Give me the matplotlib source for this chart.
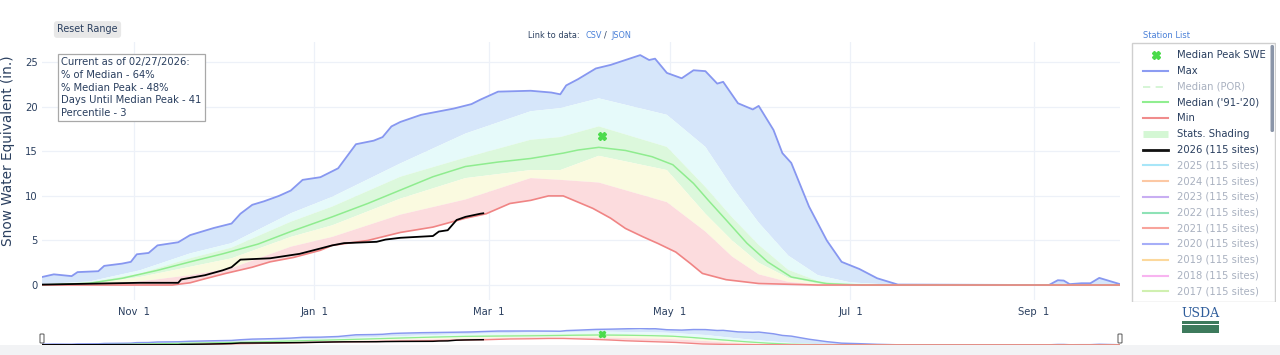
import numpy as np
import pandas as pd
import matplotlib
matplotlib.use('Agg')
import matplotlib.pyplot as plt
import matplotlib.dates as mdates
from matplotlib.patches import Rectangle, FancyBboxPatch

plt.rcParams['font.family'] = ['DejaVu Sans']

# --- data: snow water equivalent (in.), water year 2026 ---
max_pts = [('2025-10-01', 0.9), ('2025-10-05', 1.2), ('2025-10-11', 1.0), ('2025-10-13', 1.45),
           ('2025-10-20', 1.55), ('2025-10-22', 2.15), ('2025-10-28', 2.4), ('2025-10-31', 2.6),
           ('2025-11-02', 3.45), ('2025-11-06', 3.6), ('2025-11-09', 4.45), ('2025-11-16', 4.8),
           ('2025-11-20', 5.6), ('2025-11-24', 6.0), ('2025-11-28', 6.4), ('2025-12-04', 6.9),
           ('2025-12-07', 8.0), ('2025-12-11', 9.0), ('2025-12-15', 9.4), ('2025-12-20', 10.0),
           ('2025-12-24', 10.6), ('2025-12-28', 11.8), ('2026-01-03', 12.1), ('2026-01-06', 12.6),
           ('2026-01-09', 13.1), ('2026-01-11', 14.0), ('2026-01-15', 15.8), ('2026-01-21', 16.2),
           ('2026-01-24', 16.6), ('2026-01-27', 17.8), ('2026-01-30', 18.3), ('2026-02-06', 19.1),
           ('2026-02-17', 19.8), ('2026-02-23', 20.3), ('2026-02-26', 20.8), ('2026-03-04', 21.7),
           ('2026-03-15', 21.8), ('2026-03-22', 21.6), ('2026-03-25', 21.4), ('2026-03-27', 22.4),
           ('2026-03-31', 23.1), ('2026-04-06', 24.3), ('2026-04-11', 24.7), ('2026-04-16', 25.25),
           ('2026-04-21', 25.8), ('2026-04-24', 25.25), ('2026-04-26', 25.4), ('2026-04-30', 23.8),
           ('2026-05-05', 23.2), ('2026-05-09', 24.1), ('2026-05-13', 24.0), ('2026-05-17', 22.6),
           ('2026-05-19', 22.8), ('2026-05-24', 20.4), ('2026-05-29', 19.7), ('2026-05-31', 20.1),
           ('2026-06-05', 17.4), ('2026-06-08', 14.8), ('2026-06-11', 13.7), ('2026-06-17', 8.8),
           ('2026-06-23', 5.0), ('2026-06-28', 2.6), ('2026-07-04', 1.8), ('2026-07-10', 0.76),
           ('2026-07-17', 0.05), ('2026-09-06', 0.0), ('2026-09-09', 0.54), ('2026-09-11', 0.5),
           ('2026-09-13', 0.1), ('2026-09-17', 0.2), ('2026-09-20', 0.2), ('2026-09-23', 0.8),
           ('2026-09-30', 0.1)]

median_pts = [('2025-10-01', 0.0), ('2025-10-17', 0.2), ('2025-10-28', 0.75), ('2025-11-09', 1.65),
              ('2025-11-20', 2.6), ('2025-12-01', 3.5), ('2025-12-13', 4.6), ('2025-12-24', 6.0),
              ('2026-01-07', 7.65), ('2026-01-19', 9.15), ('2026-01-30', 10.65), ('2026-02-10', 12.15),
              ('2026-02-21', 13.3), ('2026-03-04', 13.8), ('2026-03-15', 14.2), ('2026-03-26', 14.8),
              ('2026-03-31', 15.15), ('2026-04-07', 15.45), ('2026-04-16', 15.1), ('2026-04-25', 14.4),
              ('2026-05-02', 13.5), ('2026-05-09', 11.4), ('2026-05-14', 9.5), ('2026-05-20', 7.3),
              ('2026-05-27', 4.7), ('2026-06-03', 2.6), ('2026-06-11', 0.9), ('2026-06-23', 0.15),
              ('2026-07-05', 0.0), ('2026-09-30', 0.0)]

min_pts = [('2025-10-01', 0.0), ('2025-11-14', 0.0), ('2025-11-20', 0.25), ('2025-11-25', 0.7),
           ('2025-12-02', 1.3), ('2025-12-11', 2.0), ('2025-12-17', 2.6), ('2025-12-25', 3.1),
           ('2026-01-03', 3.9), ('2026-01-07', 4.45), ('2026-01-19', 5.0), ('2026-01-30', 5.9),
           ('2026-02-10', 6.5), ('2026-02-21', 7.5), ('2026-02-28', 8.0), ('2026-03-08', 9.15),
           ('2026-03-15', 9.5), ('2026-03-21', 10.0), ('2026-03-26', 10.0), ('2026-03-31', 9.3),
           ('2026-04-05', 8.6), ('2026-04-11', 7.5), ('2026-04-16', 6.35), ('2026-04-22', 5.4),
           ('2026-04-27', 4.66), ('2026-05-03', 3.7), ('2026-05-08', 2.4), ('2026-05-12', 1.3),
           ('2026-05-20', 0.6), ('2026-05-31', 0.17), ('2026-06-20', 0.0), ('2026-09-30', 0.0)]

wy2026_pts = [('2025-10-01', 0.05), ('2025-11-03', 0.25), ('2025-11-16', 0.25), ('2025-11-17', 0.63),
              ('2025-11-25', 1.1), ('2025-12-01', 1.65), ('2025-12-04', 2.0), ('2025-12-07', 2.85),
              ('2025-12-17', 3.0), ('2025-12-27', 3.5), ('2026-01-03', 4.1), ('2026-01-07', 4.45),
              ('2026-01-11', 4.7), ('2026-01-22', 4.85), ('2026-01-25', 5.1), ('2026-01-30', 5.3),
              ('2026-02-10', 5.5), ('2026-02-12', 6.0), ('2026-02-15', 6.15), ('2026-02-18', 7.3),
              ('2026-02-21', 7.65), ('2026-02-26', 8.0), ('2026-02-27', 8.05)]

peak_date = '2026-04-08'
peak_swe = 16.7

band_dates = ['2025-10-01', '2025-10-17', '2025-11-03', '2025-11-20', '2025-12-04', '2025-12-24',
              '2026-01-07', '2026-01-30', '2026-02-21', '2026-03-15', '2026-03-25', '2026-04-07',
              '2026-04-30', '2026-05-13', '2026-05-22', '2026-05-31', '2026-06-10', '2026-06-20',
              '2026-07-01', '2026-07-15', '2026-09-30']
p90 = [0.1, 0.4, 1.65, 3.55, 4.7, 8.05, 9.9, 13.65, 17.0, 19.5, 19.85, 20.95, 19.1, 15.5, 11.0, 7.0,
       3.3, 1.1, 0.3, 0.03, 0.0]
p70 = [0.05, 0.3, 1.3, 3.0, 4.2, 7.1, 8.8, 12.15, 14.3, 16.3, 16.6, 17.8, 15.5, 11.0, 7.6, 4.5,
       1.7, 0.45, 0.08, 0.0, 0.0]
p50 = [0.02, 0.15, 0.9, 2.05, 3.0, 5.4, 6.7, 9.7, 12.0, 12.9, 12.9, 14.5, 12.9, 8.0, 5.0, 2.5,
       0.8, 0.15, 0.02, 0.0, 0.0]
p30 = [0.0, 0.05, 0.4, 1.1, 1.9, 4.3, 5.4, 7.9, 9.6, 12.0, 11.8, 11.5, 9.3, 6.0, 3.2, 1.2,
       0.35, 0.05, 0.0, 0.0, 0.0]

tick_dates = ['2025-11-01', '2026-01-01', '2026-03-01', '2026-05-01', '2026-07-01', '2026-09-01']
tick_labels = ['Nov  1', 'Jan  1', 'Mar  1', 'May  1', 'Jul  1', 'Sep  1']

info_lines = ['Current as of 02/27/2026:', '% of Median - 64%', '% Median Peak - 48%',
              'Days Until Median Peak - 41', 'Percentile - 3']

legend_labels = ['Median Peak SWE', 'Max', 'Median (POR)', "Median ('91-'20)", 'Min',
                 'Stats. Shading', '2026 (115 sites)', '2025 (115 sites)', '2024 (115 sites)',
                 '2023 (115 sites)', '2022 (115 sites)', '2021 (115 sites)', '2020 (115 sites)',
                 '2019 (115 sites)', '2018 (115 sites)', '2017 (115 sites)']
legend_colors = ['#4cdb4c', '#8c9cf2', '#d2f4d2', '#90ee90', '#f08c8c', '#d4f7d4', '#111111',
                 '#a8e6f8', '#fcc8a4', '#c8aef2', '#8ee2b6', '#f8a49c', '#a6aef8', '#fcd89c',
                 '#f8b4f0', '#d0f0b0']
legend_active = [True, True, False, True, True, True, True,
                 False, False, False, False, False, False, False, False, False]

# colours
TXT = '#2a3f5f'
GREY_TXT = '#a9b1c0'
C_MAX, C_MED, C_MIN = '#8797f0', '#8fec8f', '#f08484'
C_BLUE, C_CYAN, C_GREEN, C_YEL, C_RED = '#d6e6fa', '#e6fafa', '#dcf8dc', '#fafae0', '#fcdcde'

W, H = 1280, 355


def unzip(pts):
    d, v = zip(*pts)
    return mdates.date2num(pd.to_datetime(list(d))), np.array(v)


def band(ax, xl, yl, xu, yu, color):
    xs = np.concatenate([xu, xl[::-1]])
    ys = np.concatenate([yu, yl[::-1]])
    ax.fill(xs, ys, color=color, lw=0, zorder=1)


mx_x, mx_y = unzip(max_pts)
md_x, md_y = unzip(median_pts)
mn_x, mn_y = unzip(min_pts)
cur_x, cur_y = unzip(wy2026_pts)
bx = mdates.date2num(pd.to_datetime(band_dates))
p90, p70, p50, p30 = map(np.array, (p90, p70, p50, p30))
pk_x = mdates.date2num(pd.to_datetime(peak_date))
x0 = mdates.date2num(pd.Timestamp('2025-10-01'))
x1 = mdates.date2num(pd.Timestamp('2026-09-30'))


def draw_series(ax, lw_scale=1.0, marker=True):
    band(ax, bx, p90, mx_x, mx_y, C_BLUE)
    band(ax, bx, p70, bx, p90, C_CYAN)
    band(ax, bx, p50, bx, p70, C_GREEN)
    band(ax, bx, p30, bx, p50, C_YEL)
    band(ax, mn_x, mn_y, bx, p30, C_RED)
    ax.plot(mx_x, mx_y, color=C_MAX, lw=1.3 * lw_scale, zorder=3)
    ax.plot(md_x, md_y, color=C_MED, lw=1.1 * lw_scale, zorder=3)
    ax.plot(mn_x, mn_y, color=C_MIN, lw=1.2 * lw_scale, zorder=3)
    ax.plot(cur_x, cur_y, color='black', lw=1.3 * lw_scale, zorder=4)
    if marker:
        ax.plot(pk_x, peak_swe, marker='X', ms=6 * lw_scale, color='#4cdb4c', mec='#4cdb4c',
                zorder=5, ls='none')


def fx(x):
    return x / W


def fy(y):
    return 1 - y / H


fig = plt.figure(figsize=(12.8, 3.55), dpi=100)
fig.patch.set_facecolor('white')

# bottom grey strip
fig.add_artist(Rectangle((0, 0), 1, 10 / H, transform=fig.transFigure, fc='#f2f3f5', ec='none'))

# main axes
ax = fig.add_axes([fx(42), fy(300), (1120 - 42) / W, (300 - 42) / H])
draw_series(ax)
ax.set_xlim(x0, x1)
ax.set_ylim(-1.68, 27.27)
ax.set_yticks([0, 5, 10, 15, 20, 25])
ax.set_xticks(mdates.date2num(pd.to_datetime(tick_dates)))
ax.set_xticklabels(tick_labels)
ax.grid(True, color='#edf1f8', lw=0.9, zorder=0)
ax.set_axisbelow(True)
for s in ax.spines.values():
    s.set_visible(False)
ax.tick_params(length=0, labelsize=7.2, labelcolor=TXT)
ax.tick_params(axis='y', pad=3)
ax.tick_params(axis='x', pad=5)

fig.text(fx(8), fy(151), 'Snow Water Equivalent (in.)', rotation=90, ha='center', va='center',
         fontsize=9.8, color=TXT)

# info box
fig.text(fx(61), fy(57.5), '\n'.join(info_lines), ha='left', va='top', fontsize=7.2, color=TXT,
         linespacing=1.32,
         bbox=dict(boxstyle='square,pad=0.35', fc='white', ec='#a8a8a8', lw=0.9))

# top texts
fig.text(fx(87.5), fy(29.5), 'Reset Range', ha='center', va='center', fontsize=6.9, color=TXT,
         bbox=dict(boxstyle='round,pad=0.35,rounding_size=0.3', fc='#e8e8e8', ec='none'))
fig.text(fx(528), fy(35), 'Link to data:', ha='left', va='center', fontsize=5.9, color=TXT)
fig.text(fx(585), fy(35), 'CSV', ha='left', va='center', fontsize=5.9, color='#4a80d8')
fig.text(fx(604), fy(35), '/', ha='left', va='center', fontsize=5.9, color=TXT)
fig.text(fx(611), fy(35), 'JSON', ha='left', va='center', fontsize=5.9, color='#4a80d8')
fig.text(fx(1143), fy(35), 'Station List', ha='left', va='center', fontsize=6.0, color='#4a80d8')

# range slider
rs = fig.add_axes([fx(42), fy(345), (1120 - 42) / W, 17 / H])
draw_series(rs, lw_scale=0.8)
rs.set_xlim(x0, x1)
rs.set_ylim(-0.3, 26.5)
rs.axis('off')
for hx in (42, 1120):
    fig.add_artist(FancyBboxPatch((fx(hx - 2), fy(343)), 4 / W, 9 / H, transform=fig.transFigure,
                                  boxstyle='round,pad=0,rounding_size=0.001', fc='white',
                                  ec='#555555', lw=0.7, zorder=6))

# legend panel
lg = fig.add_axes([fx(1131), fy(302), 145 / W, 260 / H])
lg.set_xlim(0, 145)
lg.set_ylim(260, 0)
lg.axis('off')
lg.add_patch(Rectangle((0.5, 0.5), 143.5, 259, fc='white', ec='#cfcfcf', lw=1.0))
lg.add_patch(FancyBboxPatch((139.5, 3), 3.5, 87, boxstyle='round,pad=0,rounding_size=1.5',
                            fc='#8a95a8', ec='none'))
for i, (lab, col, act) in enumerate(zip(legend_labels, legend_colors, legend_active)):
    y = 13 + i * 15.75
    if lab == 'Median Peak SWE':
        lg.plot(24.5, y, marker='X', ms=5.5, color=col, mec=col)
    elif lab == 'Median (POR)':
        lg.plot([12, 37], [y, y], color=col, lw=1.3, ls=(0, (4, 3)))
    elif lab == 'Stats. Shading':
        lg.plot([12, 37], [y, y], color=col, lw=5, solid_capstyle='butt')
    elif lab.startswith('2026'):
        lg.plot([12, 37], [y, y], color=col, lw=2.0)
    else:
        lg.plot([12, 37], [y, y], color=col, lw=1.5)
    lg.text(46, y, lab, va='center', ha='left', fontsize=7.2, color=TXT if act else GREY_TXT)

# USDA logo
fig.text(fx(1200.5), fy(313.5), 'USDA', ha='center', va='center', fontsize=9,
         family='DejaVu Serif', color='#2f5d9b')
fig.add_artist(Rectangle((fx(1182), fy(333)), 37 / W, 12 / H, transform=fig.transFigure,
                         fc='#3d7a5c', ec='none'))
fig.add_artist(Rectangle((fx(1182), fy(325)), 37 / W, 1.2 / H, transform=fig.transFigure,
                         fc='white', ec='none'))

fig.savefig('out.png', dpi=100)
